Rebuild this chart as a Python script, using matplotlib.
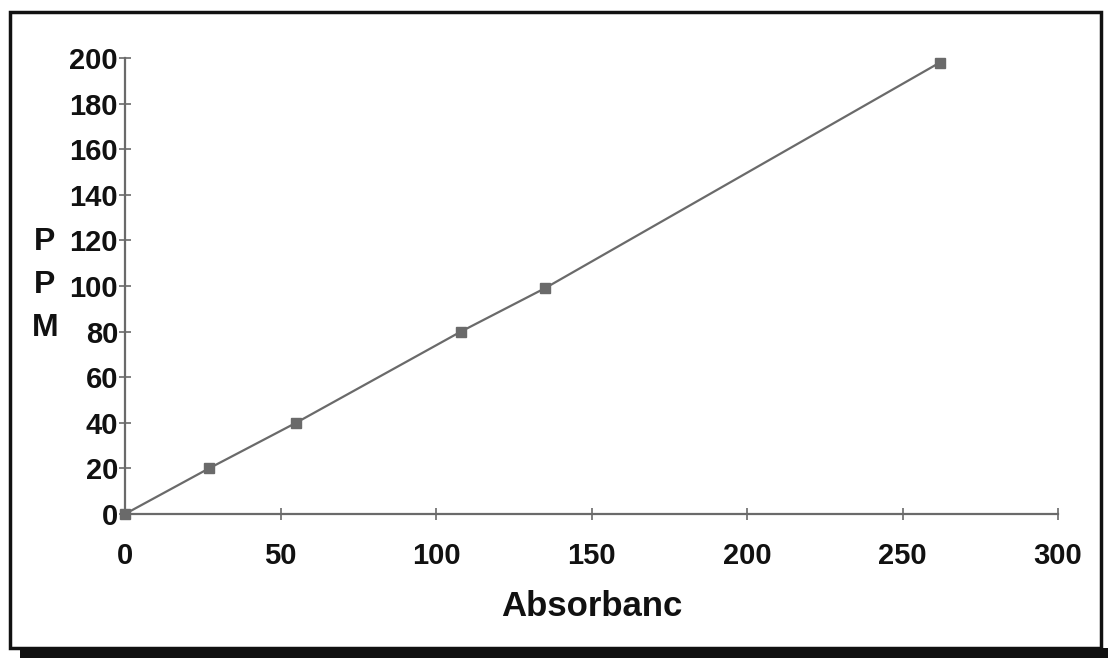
import numpy as np
import matplotlib
matplotlib.use("Agg")
import matplotlib.pyplot as plt
from matplotlib.patches import Rectangle

# calibration points
absorbance = [0, 27, 55, 108, 135, 262]
ppm = [0, 20, 40, 80, 99, 198]

x_ticks = [0, 50, 100, 150, 200, 250, 300]
y_ticks = [0, 20, 40, 60, 80, 100, 120, 140, 160, 180, 200]

plt.rcParams['font.family'] = ['Liberation Sans', 'DejaVu Sans']
plt.rcParams['font.weight'] = 'bold'

fig = plt.figure(figsize=(11.08, 6.58), dpi=100)
ax = fig.add_axes([125 / 1108, 1 - 514 / 658, (1058 - 125) / 1108, (514 - 58) / 658])

gray = '#6a6a6a'
ax.plot(absorbance, ppm, color=gray, lw=1.6, marker='s', ms=7,
        mfc=gray, mec=gray, clip_on=False, zorder=3)

ax.set_xlim(0, 300)
ax.set_ylim(0, 200)
ax.set_xticks(x_ticks)
ax.set_yticks(y_ticks)
ax.tick_params(axis='both', direction='inout', length=9, width=1.2, color=gray,
               labelsize=21, labelcolor='#111111')
ax.tick_params(axis='y', pad=0.5)
ax.tick_params(axis='x', pad=16)
for lab in ax.get_xticklabels() + ax.get_yticklabels():
    lab.set_fontweight('bold')

for s in ['top', 'right']:
    ax.spines[s].set_visible(False)
for s in ['left', 'bottom']:
    ax.spines[s].set_color(gray)
    ax.spines[s].set_linewidth(1.6)

ax.set_xlabel('Absorbanc', fontsize=25, fontweight='bold', color='#111111', labelpad=14)
fig.text(45 / 1108, 1 - 285 / 658, 'P\nP\nM', fontsize=23, fontweight='bold',
         color='#111111', ha='center', va='center', linespacing=1.55)

# scanned frame around the chart
fig.patches.append(Rectangle((10 / 1108, 1 - 648 / 658), (1101 - 10) / 1108, (648 - 12) / 658,
                             transform=fig.transFigure, fill=False, ec='#111111', lw=2.5))
fig.patches.append(Rectangle((20 / 1108, 0), (1108 - 20) / 1108, 10 / 658,
                             transform=fig.transFigure, fc='#111111', ec='none'))

fig.savefig('out.png', dpi=100)
